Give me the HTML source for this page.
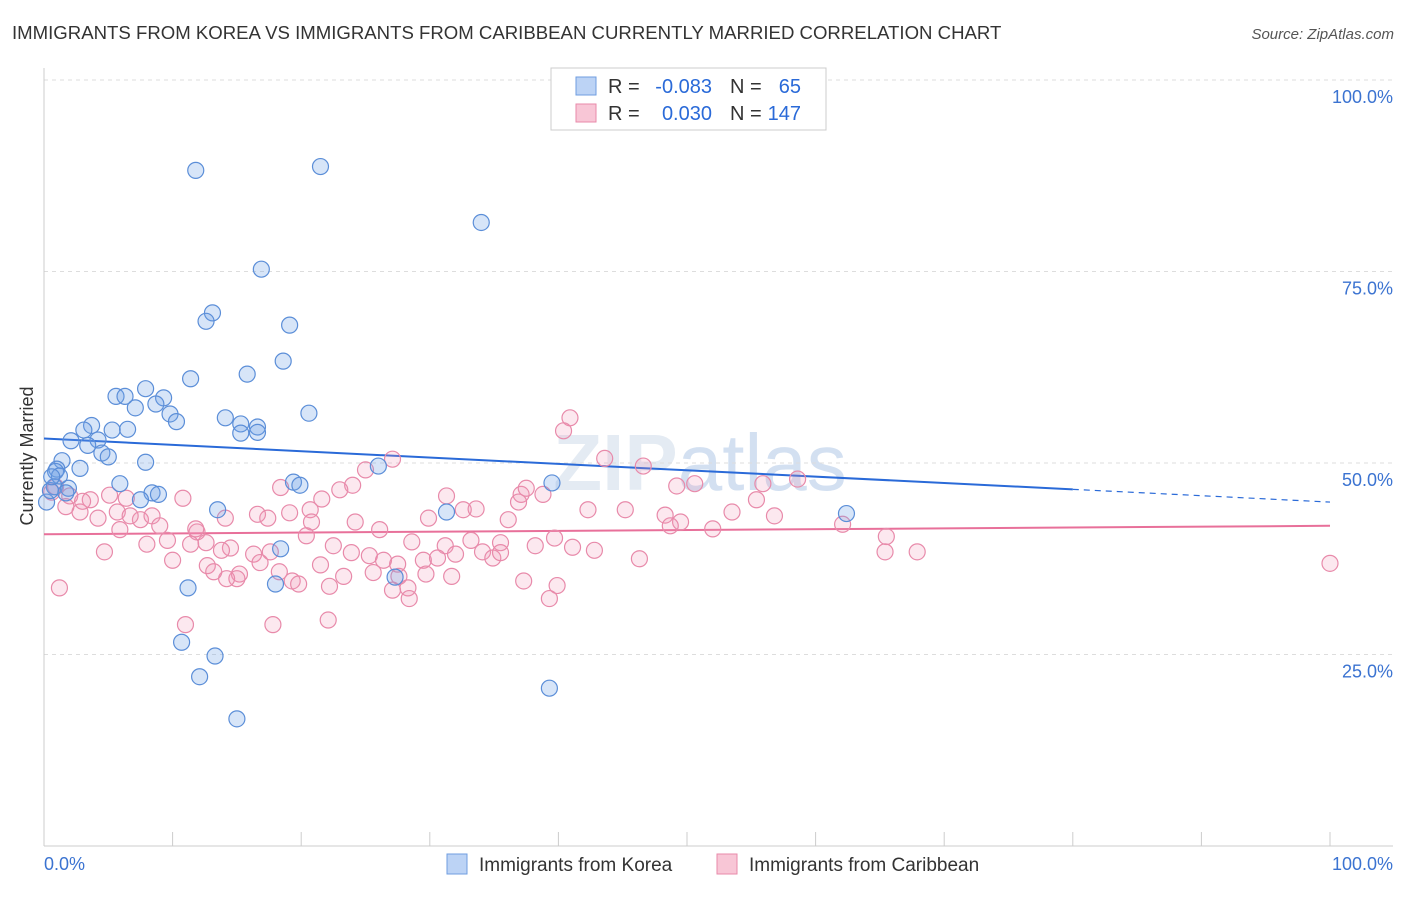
<!DOCTYPE html>
<html><head><meta charset="utf-8">
<style>
body{margin:0;background:#fff;font-family:"Liberation Sans",sans-serif;}
svg text{font-family:"Liberation Sans",sans-serif;}
</style></head>
<body>
<svg id="chart" width="1406" height="892" viewBox="0 0 1406 892" xmlns="http://www.w3.org/2000/svg">
<text x="12" y="39" font-size="18.6" fill="#333">IMMIGRANTS FROM KOREA VS IMMIGRANTS FROM CARIBBEAN CURRENTLY MARRIED CORRELATION CHART</text>
<text x="1394" y="39" font-size="15" fill="#555" text-anchor="end" font-style="italic">Source: ZipAtlas.com</text>
<text x="700" y="490" font-size="80" fill="#e4ebf3" text-anchor="middle" font-weight="bold">ZIP<tspan fill="#d3e0f1" font-weight="normal">atlas</tspan></text>
<g id="grid"></g>
<g id="axes"></g>
<text transform="translate(33,456) rotate(-90)" font-size="18" fill="#333" text-anchor="middle">Currently Married</text>
<g id="trend"></g>
<g id="points"></g>
<g>
<rect x="551" y="68" width="275" height="62" fill="#fff" stroke="#ccc"/>
<rect x="576" y="77" width="20" height="18" fill="#bcd3f5" stroke="#6f9ee0"/>
<text x="608" y="93" font-size="20" fill="#333">R =</text>
<text x="712" y="93" font-size="20" fill="#2a6ad8" text-anchor="end">-0.083</text>
<text x="730" y="93" font-size="20" fill="#333">N =</text>
<text x="801" y="93" font-size="20" fill="#2a6ad8" text-anchor="end">65</text>
<rect x="576" y="104" width="20" height="18" fill="#f8c6d6" stroke="#e88aaa"/>
<text x="608" y="120" font-size="20" fill="#333">R =</text>
<text x="712" y="120" font-size="20" fill="#2a6ad8" text-anchor="end">0.030</text>
<text x="730" y="120" font-size="20" fill="#333">N =</text>
<text x="801" y="120" font-size="20" fill="#2a6ad8" text-anchor="end">147</text>
</g>
<g>
<rect x="447" y="854" width="20" height="20" fill="#bcd3f5" stroke="#6f9ee0"/>
<text x="479" y="871" font-size="19" fill="#333">Immigrants from Korea</text>
<rect x="717" y="854" width="20" height="20" fill="#f8c6d6" stroke="#e88aaa"/>
<text x="749" y="871" font-size="19" fill="#333">Immigrants from Caribbean</text>
</g>
</svg>
<script>
const yTicks=[25,50,75,100];
const yTickLabels=["25.0%","50.0%","75.0%","100.0%"];
const xTickCount=10;
const koreaX=[11.8,21.5,34,16.9,13.1,12.6,19.1,18.6,15.8,11.4,7.9,5.6,6.3,9.3,7.1,8.7,9.8,10.3,14.1,20.6,3.7,3.1,5.3,6.5,2.1,4.2,15.3,16.6,15.3,16.6,3.4,4.5,5,1.4,7.9,2.8,1,26,19.4,19.9,39.5,5.9,0.8,1.9,8.4,8.9,7.5,0.2,13.5,31.3,62.4,18.4,27.3,18,11.2,10.7,13.3,12.1,39.3,15,0.9,0.5,1.2,1.7,0.6];
const koreaY=[88.2,88.7,81.4,75.3,69.6,68.5,68,63.3,61.6,61,59.7,58.7,58.7,58.5,57.2,57.7,56.4,55.4,55.9,56.5,54.9,54.3,54.3,54.4,52.9,53,55.1,54.7,53.9,54,52.3,51.3,50.8,50.3,50.1,49.3,49.2,49.6,47.5,47.1,47.4,47.3,46.9,46.7,46.1,45.9,45.2,44.9,43.9,43.6,43.4,38.8,35.1,34.2,33.7,26.6,24.8,22.1,20.6,16.6,48.9,46.4,48.3,46.1,48.2];
const caribX=[40.9,40.4,27.1,43.6,46.6,24,18.4,31.3,37.1,38.8,37.5,49.2,50.6,55.9,58.6,55.4,25,0.9,0.6,2,3.6,5.1,6.4,10.8,21.6,20.7,23,36.9,32.6,33.6,42.3,45.2,48.3,49.5,53.5,56.8,52,48.7,62.1,65.5,65.4,67.9,100,2.8,4.2,5.7,7.5,8.4,5.9,9,11.9,14.1,16.6,17.4,19.1,20.8,24.2,26.1,29.9,36.1,39.7,41.1,42.8,46.3,28.6,31.2,33.2,35.5,38.2,8,9.6,11.4,12.6,14.5,16.3,17.6,22.5,23.9,25.3,26.4,27.5,29.5,30.6,32,34.1,34.9,10,12.7,15.2,18.3,21.5,23.3,25.6,27.6,29.7,31.7,15,19.3,19.8,22.2,27.1,28.3,37.3,39.3,39.9,28.4,14.2,17.8,22.1,11,13.2,1.2,1.7,3,4.7,6.7,11.8,13.8,35.5,16.8,20.4];
const caribY=[55.9,54.2,50.5,50.6,49.6,47.1,46.8,45.7,45.9,45.9,46.7,47,47.3,47.3,47.9,45.2,49.1,46.9,46.2,45.7,45.2,45.8,45.4,45.4,45.3,43.9,46.5,44.9,43.9,44,43.9,43.9,43.2,42.3,43.6,43.1,41.4,41.8,42,40.4,38.4,38.4,36.9,43.6,42.8,43.6,42.6,43.1,41.3,41.8,41,42.8,43.3,42.8,43.5,42.3,42.3,41.3,42.8,42.6,40.2,39,38.6,37.5,39.7,39.2,39.9,39.6,39.2,39.4,39.9,39.4,39.6,38.9,38.1,38.4,39.2,38.3,37.9,37.3,36.8,37.3,37.6,38.1,38.4,37.6,37.3,36.6,35.5,35.8,36.7,35.2,35.7,35.2,35.5,35.2,34.9,34.6,34.2,33.9,33.4,33.7,34.6,32.3,34,32.3,34.9,28.9,29.5,28.9,35.8,33.7,44.3,45,38.4,43.1,41.4,38.6,38.3,37,40.5,41.4];
const xs=v=>44+v*12.86, ys=v=>846-v*7.66;
const NS="http://www.w3.org/2000/svg";
function mk(tag,attrs,parent){const e=document.createElementNS(NS,tag);for(const k in attrs)e.setAttribute(k,attrs[k]);parent.appendChild(e);return e;}
const grid=document.getElementById('grid'),axes=document.getElementById('axes');
yTicks.forEach((t,i)=>{
  const l=mk('line',{x1:44,x2:1393,y1:ys(t),y2:ys(t),stroke:'#ddd','stroke-dasharray':'4,4'},grid);
  
  
  const tx=mk('text',{x:1393,y:ys(t)+23,'font-size':18,fill:'#3b73d1','text-anchor':'end'},axes);
  tx.textContent=yTickLabels[i];
  
  
});
const ax=mk('line',{x1:44,x2:44,y1:68,y2:846,stroke:'#ccc'},axes);


const bx=mk('line',{x1:44,x2:1393,y1:846,y2:846,stroke:'#ccc'},axes);


for(let i=0;i<=xTickCount;i++){
  const t=mk('line',{x1:xs(i*10),x2:xs(i*10),y1:832,y2:846,stroke:'#ccc'},axes);
  
  
}
const xl=mk('text',{x:44,y:870,'font-size':18,fill:'#3b73d1'},axes);xl.textContent='0.0%';


const xr=mk('text',{x:1393,y:870,'font-size':18,fill:'#3b73d1','text-anchor':'end'},axes);xr.textContent='100.0%';


const pts=document.getElementById('points');
caribX.forEach((x,i)=>{
  const c=mk('circle',{cx:xs(x),cy:ys(caribY[i]),r:8,fill:'rgba(240,150,180,0.22)',stroke:'#e88aaa','stroke-width':1.2},pts);
  
  
});
koreaX.forEach((x,i)=>{
  const c=mk('circle',{cx:xs(x),cy:ys(koreaY[i]),r:8,fill:'rgba(110,160,230,0.28)',stroke:'#5b8ed8','stroke-width':1.2},pts);
  
  
});
const tr=document.getElementById('trend');
const ka=53.2,kb=-0.083;
const l1=mk('line',{x1:xs(0),y1:ys(ka),x2:xs(80),y2:ys(ka+kb*80),stroke:'#2a6ad8','stroke-width':2},tr);


const l2=mk('line',{x1:xs(80),y1:ys(ka+kb*80),x2:xs(100),y2:ys(ka+kb*100),stroke:'#2a6ad8','stroke-width':1.2,'stroke-dasharray':'6,5'},tr);


const l3=mk('line',{x1:xs(0),y1:ys(40.7),x2:xs(100),y2:ys(41.8),stroke:'#e8709a','stroke-width':2},tr);


</script>
</body></html>
